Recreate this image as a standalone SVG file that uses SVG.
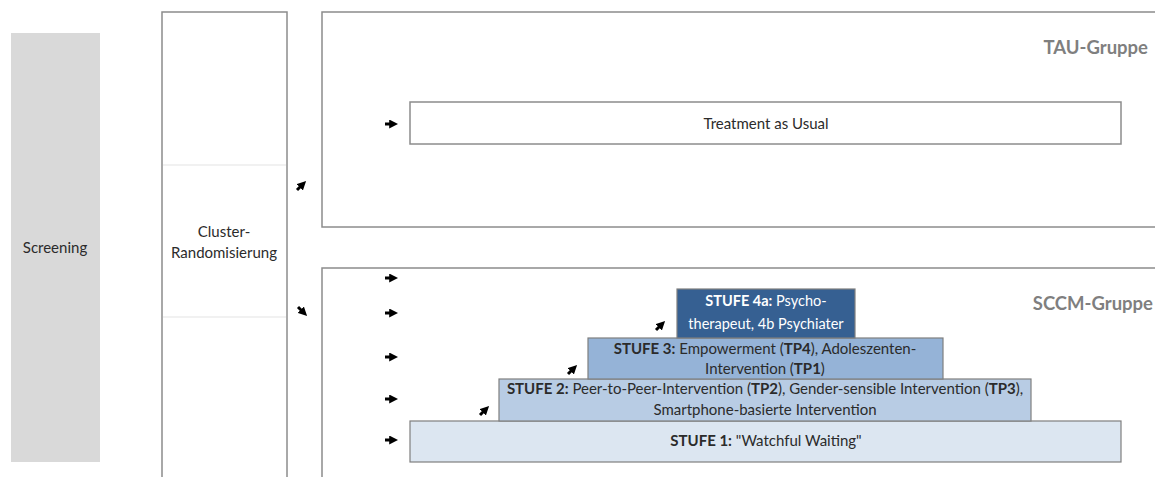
<svg xmlns="http://www.w3.org/2000/svg" width="1155" height="477" viewBox="0 0 1155 477">
<style>
text{font-family:Lato,"Liberation Sans",sans-serif;fill:#2b2b2b;}
.t{font-size:15px;text-anchor:middle;}
.s{font-size:14.5px;}
.b{font-weight:bold;}
.grp{font-size:18.5px;font-weight:bold;fill:#7f7f7f;text-anchor:end;}
.frame{fill:#fff;stroke:#8c8c8c;stroke-width:1.5;}
.step{stroke:#7f7f7f;stroke-width:1.2;}
.arr{stroke:#000;stroke-width:3;fill:none;marker-end:url(#ah);}
</style>
<defs>
<marker id="ah" viewBox="0 0 10 10" refX="2" refY="5" markerWidth="3" markerHeight="3" orient="auto" markerUnits="strokeWidth">
<path d="M0,0 L10,5 L0,10 z" fill="#000"/>
</marker>
</defs>
<g id="screening">
<rect x="11" y="33" width="89" height="429" fill="#d9d9d9"/>
<text class="t" x="55" y="253">Screening</text>
</g>
<g id="randomisierung">
<rect class="frame" x="162" y="12" width="125" height="480"/>
<line x1="163" y1="165" x2="286" y2="165" stroke="#e3e3e3" stroke-width="1.2"/>
<line x1="163" y1="317" x2="286" y2="317" stroke="#e3e3e3" stroke-width="1.2"/>
<text class="t" x="224" y="237">Cluster-</text>
<text class="t" x="224" y="258">Randomisierung</text>
</g>
<g id="tau">
<rect class="frame" x="322" y="12" width="850" height="215"/>
<text class="grp" x="1148" y="54">TAU-Gruppe</text>
</g>
<g id="tau-treatment">
<rect class="frame" x="410" y="102" width="711" height="42"/>
<text class="t" x="766" y="129">Treatment as Usual</text>
</g>
<g id="sccm">
<rect class="frame" x="322" y="268" width="850" height="230"/>
<text class="grp" x="1153" y="310">SCCM-Gruppe</text>
</g>
<g id="stufe1">
<rect class="step" x="410" y="421" width="711" height="41" fill="#dce6f1"/>
<text class="t" x="766" y="446"><tspan class="b">STUFE 1:</tspan> "Watchful Waiting"</text>
</g>
<g id="stufe2">
<rect class="step" x="499" y="379" width="532" height="42" fill="#b8cce4"/>
<text class="t" x="765" y="394"><tspan class="b">STUFE 2:</tspan> Peer-to-Peer-Intervention (<tspan class="b">TP2</tspan>), Gender-sensible Intervention (<tspan class="b">TP3</tspan>),</text>
<text class="t" x="765" y="415">Smartphone-basierte Intervention</text>
</g>
<g id="stufe3">
<rect class="step" x="588" y="338" width="355" height="41" fill="#95b3d7"/>
<text class="t" x="765" y="354"><tspan class="b">STUFE 3:</tspan> Empowerment (<tspan class="b">TP4</tspan>), Adoleszenten-</text>
<text class="t" x="765" y="374">Intervention (<tspan class="b">TP1</tspan>)</text>
</g>
<g id="stufe4">
<rect class="step" x="677" y="289" width="178" height="49" fill="#366092"/>
<text class="t s" x="766" y="306" style="fill:#fff"><tspan class="b" style="fill:#fff">STUFE 4a:</tspan> Psycho-</text>
<text class="t s" x="766" y="329" style="fill:#fff">therapeut, 4b Psychiater</text>
</g>
<g id="connectors">
<path class="arr" d="M385,124 L391,124"/>
<path class="arr" d="M297,190 L301,186"/>
<path class="arr" d="M298,307 L302,311"/>
<path class="arr" d="M385,278 L391,278"/>
<path class="arr" d="M385,313 L391,313"/>
<path class="arr" d="M385,357 L391,357"/>
<path class="arr" d="M385,399 L391,399"/>
<path class="arr" d="M385,440 L391,440"/>
<path class="arr" d="M480,415 L484,411"/>
<path class="arr" d="M568,374 L572,370"/>
<path class="arr" d="M656,330 L660,326"/>
</g>
</svg>
